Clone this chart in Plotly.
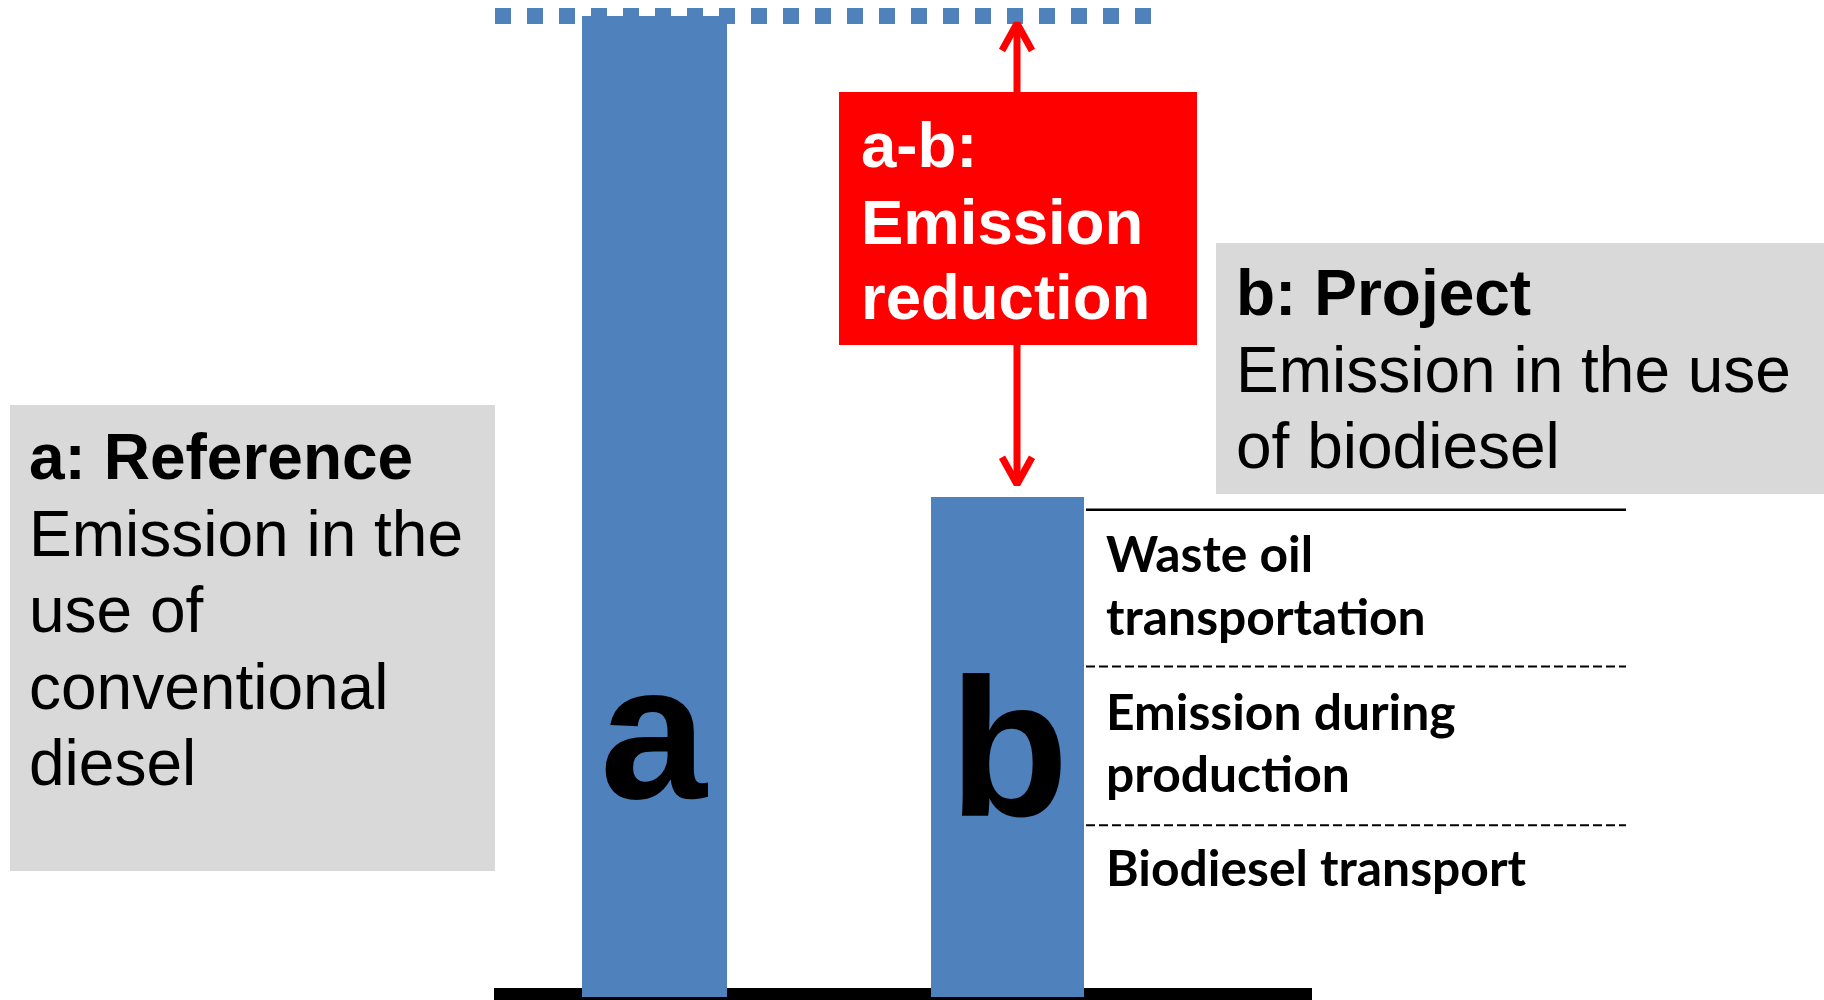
import plotly.graph_objects as go

# ---------------- data ----------------
bar_labels = ["a", "b"]
reference_emission = [100.0]                     # a: conventional diesel (relative units)
project_components = ["Biodiesel transport", "Emission during production", "Waste oil transportation"]
project_values = [17.5, 16.2, 17.3]              # b: stacked components, bottom -> top
component_label_lines = [["Biodiesel transport"], ["Emission during", "production"], ["Waste oil", "transportation"]]

ref_box_title = "a: Reference"
ref_box_lines = ["Emission in the", "use of", "conventional", "diesel"]
proj_box_title = "b: Project"
proj_box_lines = ["Emission in the use", "of biodiesel"]
reduction_lines = ["a-b:", "Emission", "reduction"]

# ---------------- layout constants ----------------
W, H = 1824, 1000
BASE_PX, TOP_PX = 997, 16
a_total = reference_emission[0]
b_total = sum(project_values)
scale = (BASE_PX - TOP_PX) / a_total
y_range = [-(H - BASE_PX) / scale, BASE_PX / scale]


def val(py):
    return (BASE_PX - py) / scale


def pix(v):
    return BASE_PX - v * scale


BLUE = "#4F81BD"
GRAY = "#D9D9D9"
RED = "#FF0000"
ARIAL = "Liberation Sans, Arial, sans-serif"
CAL = "Lato, Carlito, Calibri, sans-serif"
ARIAL_M = (0.905, 0.212)
LATO_M = (0.987, 0.213)

BAR_A_X, BAR_A_W = 654.5, 145
BAR_B_X, BAR_B_W = 1007.5, 153
ARROW_X = 1017

fig = go.Figure()

# bars
fig.add_bar(x=[BAR_A_X], y=reference_emission, width=[BAR_A_W], marker_color=BLUE,
            marker_line_width=0, name=bar_labels[0])
for name, v in zip(project_components, project_values):
    fig.add_bar(x=[BAR_B_X], y=[v], width=[BAR_B_W], marker_color=BLUE,
                marker_line_width=0, name=name)

# dotted reference level
fig.add_scatter(x=[495, 1151], y=[a_total, a_total], mode="lines",
                line=dict(color=BLUE, width=16, dash="16px,16px"), hoverinfo="skip")

# double arrow a -> b
top_tip = pix(a_total)
bot_tip = pix(b_total) - 5
miter = 7.5
tv, bv = top_tip + miter, bot_tip - miter
hw, hl = 15, 27
ax = [ARROW_X, ARROW_X, None,
      ARROW_X - hw, ARROW_X, ARROW_X + hw, None,
      ARROW_X - hw, ARROW_X, ARROW_X + hw]
ay = [val(tv), val(bv), None,
      val(tv + hl), val(tv), val(tv + hl), None,
      val(bv - hl), val(bv), val(bv - hl)]
fig.add_scatter(x=ax, y=ay, mode="lines", line=dict(color=RED, width=7),
                connectgaps=False, hoverinfo="skip")

shapes = []
# baseline
shapes.append(dict(type="rect", xref="x", yref="paper", x0=494, x1=1312,
                   y0=1 - 1000 / H, y1=1 - 988 / H, fillcolor="black", line_width=0, layer="below"))
# grey boxes
shapes.append(dict(type="rect", xref="x", yref="paper", x0=10, x1=495,
                   y0=1 - 871 / H, y1=1 - 405 / H, fillcolor=GRAY, line_width=0, layer="below"))
shapes.append(dict(type="rect", xref="x", yref="paper", x0=1216, x1=1830,
                   y0=1 - 494 / H, y1=1 - 243 / H, fillcolor=GRAY, line_width=0, layer="below"))
# red box
shapes.append(dict(type="rect", xref="x", yref="paper", x0=839, x1=1197,
                   y0=1 - 345 / H, y1=1 - 92 / H, fillcolor=RED, line_width=0, layer="above"))
# component separators
cum = 0
seps = []
for v in project_values[:-1]:
    cum += v
    seps.append(cum)
for s in seps:
    shapes.append(dict(type="line", xref="x", yref="y", x0=1086, x1=1626, y0=s, y1=s,
                       line=dict(color="black", width=2, dash="9px,4px"), layer="above"))
top_line = b_total - 13 / scale
shapes.append(dict(type="line", xref="x", yref="y", x0=1086, x1=1626, y0=top_line, y1=top_line,
                   line=dict(color="black", width=2.5), layer="above"))

annotations = []


def txt(x, baseline, s, size, family, metrics, color="black", weight="normal", anchor="left"):
    asc, desc = metrics
    mid = baseline - (asc - (asc + desc) / 2) * size
    annotations.append(dict(x=x, xref="x", y=1 - mid / H, yref="paper", text=s, showarrow=False,
                            xanchor=anchor, yanchor="middle",
                            font=dict(family=family, size=size, color=color, weight=weight)))


DY = 2.5
# red box text
for s, b in zip(reduction_lines, [165, 242, 317]):
    txt(859, b + DY, s, 63.5, ARIAL, ARIAL_M, color="white", weight="bold")

# left grey box
txt(27, 477 + DY, ref_box_title, 64, ARIAL, ARIAL_M, weight="bold")
for i, s in enumerate(ref_box_lines):
    txt(27, 553.5 + 76.5 * i + DY, s, 64, ARIAL, ARIAL_M)

# right grey box
txt(1234, 313 + DY, proj_box_title, 64, ARIAL, ARIAL_M, weight="bold")
for i, s in enumerate(proj_box_lines):
    txt(1234, 389.5 + 76.5 * i + DY, s, 64, ARIAL, ARIAL_M)

# component labels (top -> bottom)
label_baselines = [[883], [727, 789], [569, 632]]
for lines, bls in zip(component_label_lines, label_baselines):
    for s, b in zip(lines, bls):
        txt(1104, b + 3, s, 49.8, CAL, LATO_M, weight="bold")

# big letters in bars
txt(BAR_A_X - 1, 798, bar_labels[0], 192, ARIAL, ARIAL_M, weight="bold", anchor="center")
txt(BAR_B_X + 1, 816, bar_labels[1], 196, ARIAL, ARIAL_M, weight="bold", anchor="center")

fig.update_layout(
    width=W, height=H, margin=dict(l=0, r=0, t=0, b=0, pad=0),
    paper_bgcolor="white", plot_bgcolor="white",
    barmode="stack", showlegend=False, hovermode=False,
    xaxis=dict(range=[0, W], visible=False, fixedrange=True),
    yaxis=dict(range=y_range, visible=False, fixedrange=True),
    shapes=shapes, annotations=annotations,
)

fig.write_html("out.html", config={"displayModeBar": False},
               post_script="document.body.style.margin='0';document.body.style.overflow='hidden';")
